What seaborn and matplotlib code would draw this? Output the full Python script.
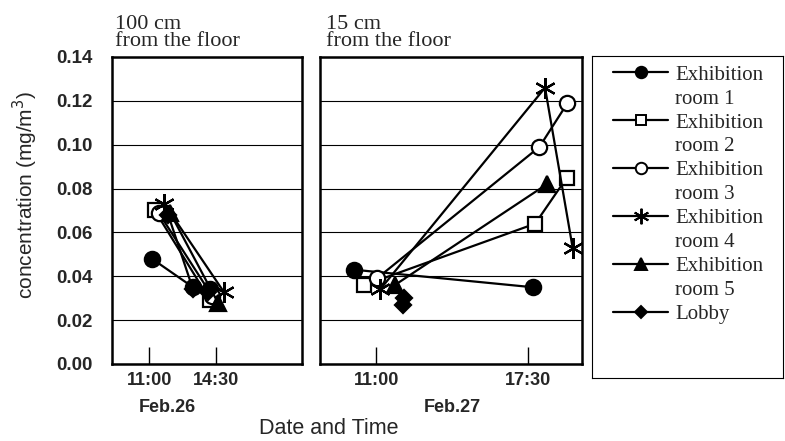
import matplotlib
matplotlib.use("Agg")
import matplotlib.pyplot as plt
import seaborn as sns
import pandas as pd
from matplotlib.lines import Line2D

# series names and marker styles
names = ["Exhibition\nroom 1", "Exhibition\nroom 2", "Exhibition\nroom 3",
         "Exhibition\nroom 4", "Exhibition\nroom 5", "Lobby"]
markers = ["o", "s", "o", (6, 2, 0), "^", "D"]
faces = ["black", "white", "white", "black", "black", "black"]
msizes = [11, 10, 11, 15, 11, 8.5]

# Feb.26, 100 cm from floor (time in hours, conc mg/m3)
t26 = [[11.15, 13.3, 14.2], [11.3, 14.2], [11.5, 14.3],
       [11.8, 14.9], [12.1, 14.6], [12.0, 13.3, 14.1]]
c26 = [[0.048, 0.035, 0.034], [0.070, 0.029], [0.069, 0.031],
       [0.073, 0.033], [0.069, 0.028], [0.068, 0.034, 0.033]]

# Feb.27, 15 cm from floor
t27 = [[10.05, 17.7], [10.5, 17.8, 19.15], [11.03, 17.98, 19.18],
       [11.17, 18.22, 19.4], [11.8, 18.3], [12.2, 12.15]]
c27 = [[0.043, 0.035], [0.036, 0.064, 0.085], [0.039, 0.099, 0.119],
       [0.034, 0.126, 0.053], [0.036, 0.082], [0.030, 0.027]]

yticks = [0, 0.02, 0.04, 0.06, 0.08, 0.10, 0.12, 0.14]
ylabels = ["0.00", "0.02", "0.04", "0.06", "0.08", "0.10", "0.12", "0.14"]

sns.set_theme(style="white")
plt.rcParams["font.family"] = ["Liberation Sans", "DejaVu Sans"]

fig = plt.figure(figsize=(7.85, 4.41), dpi=100)
W, H = 785, 441
ax1 = fig.add_axes([112 / W, 1 - 364 / H, 190 / W, 307 / H])
ax2 = fig.add_axes([320 / W, 1 - 364 / H, 262 / W, 307 / H])


def draw(ax, ts, cs):
    for i in range(len(names)):
        df = pd.DataFrame({"t": ts[i], "c": cs[i]})
        sns.lineplot(data=df, x="t", y="c", ax=ax, sort=False, estimator=None,
                     color="black", lw=1.6, marker=markers[i],
                     markerfacecolor=faces[i], markeredgecolor="black",
                     markeredgewidth=1.6, markersize=msizes[i])
    ax.set_ylim(0, 0.14)
    ax.set_yticks(yticks)
    ax.grid(axis="y", color="black", lw=0.8)
    for s in ax.spines.values():
        s.set_color("black")
        s.set_linewidth(1.8)
    ax.set_xlabel("")
    ax.set_ylabel("")
    ax.tick_params(axis="x", direction="in", length=12, width=1, color="black",
                   bottom=True, pad=6, labelsize=13)


draw(ax1, t26, c26)
ax1.set_xlim(9.06, 19.0)
ax1.set_xticks([11, 14.5], ["11:00", "14:30"], fontweight="bold")
ax1.set_yticklabels(ylabels, fontweight="bold")
ax1.tick_params(axis="y", left=False, labelsize=13.5, pad=8)

draw(ax2, t27, c27)
ax2.set_xlim(8.6, 19.8)
ax2.set_xticks([11, 17.5], ["11:00", "17:30"], fontweight="bold")
ax2.tick_params(axis="y", left=False, labelleft=False)

serif = ["Liberation Serif", "DejaVu Serif"]
fig.text(115 / W, 1 - 46 / H, "100 cm\nfrom the floor", family=serif, fontsize=16,
         va="baseline", ha="left", linespacing=0.85)
fig.text(326 / W, 1 - 46 / H, "15 cm\nfrom the floor", family=serif, fontsize=16,
         va="baseline", ha="left", linespacing=0.85)
fig.text(167 / W, 1 - 408 / H, "Feb.26", fontsize=13, fontweight="bold",
         ha="center", va="center")
fig.text(452 / W, 1 - 408 / H, "Feb.27", fontsize=13, fontweight="bold",
         ha="center", va="center")
fig.text(329 / W, 1 - 428 / H, "Date and Time", fontsize=15.5, ha="center",
         va="center")
fig.text(25 / W, 1 - 195 / H, "concentration (mg/m$^3$)", fontsize=15,
         rotation=90, ha="center", va="center")

# legend box
lax = fig.add_axes([592 / W, 1 - 378 / H, 191 / W, 322 / H])
lax.set_xticks([])
lax.set_yticks([])
for s in lax.spines.values():
    s.set_color("black")
    s.set_linewidth(0.8)
handles = []
labels = []
for i in range(len(names)):
    parts = names[i].split("\n")
    handles.append(Line2D([], [], color="black", lw=1.6, marker=markers[i],
                          markerfacecolor=faces[i], markeredgecolor="black",
                          markeredgewidth=1.4, markersize=msizes[i] * 0.75))
    labels.append(parts[0])
    if len(parts) > 1:
        handles.append(Line2D([], [], linestyle="none"))
        labels.append(parts[1])
lax.legend(handles, labels, loc="upper left", bbox_to_anchor=(0.11, 0.972),
           frameon=False, prop={"family": serif, "size": 15}, handlelength=2.64,
           handletextpad=0.33, labelspacing=0.21, borderaxespad=0, borderpad=0)

fig.savefig("out.png", dpi=100)
